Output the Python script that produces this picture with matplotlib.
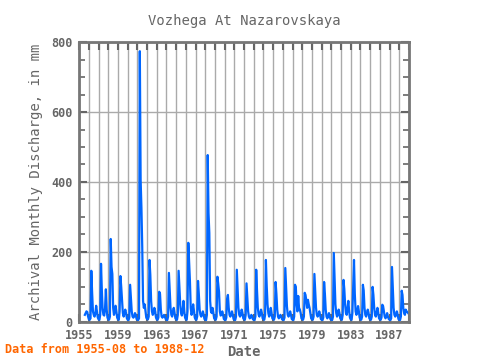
"""Monthly discharge record for Vozhega at Nazarovskaya."""
import matplotlib
matplotlib.use("Agg")
import matplotlib.pyplot as plt
from matplotlib.ticker import MultipleLocator, FuncFormatter
import numpy as np

START_YEAR = 1955
START_MONTH = 8

# monthly values (mm), one list per calendar year; 1955 starts in August
Y1955 = [20, 25, 30, 28, 15]
Y1956 = [7, 6, 10, 146, 83, 30, 20, 15, 25, 46, 30, 12]
Y1957 = [7, 6, 20, 166, 91, 35, 20, 18, 40, 93, 35, 12]
Y1958 = [7, 6, 15, 237, 157, 137, 40, 20, 30, 46, 30, 12]
Y1959 = [7, 6, 30, 131, 100, 60, 25, 15, 25, 35, 25, 10]
Y1960 = [6, 5, 12, 106, 70, 30, 15, 12, 15, 25, 20, 8]
Y1961 = [6, 5, 10, 774, 406, 326, 214, 60, 40, 50, 30, 12]
Y1962 = [8, 7, 15, 177, 134, 60, 30, 20, 25, 40, 30, 12]
Y1963 = [7, 6, 12, 86, 80, 35, 15, 12, 15, 20, 15, 8]
Y1964 = [6, 5, 15, 140, 90, 40, 20, 15, 30, 40, 25, 10]
Y1965 = [7, 6, 20, 146, 97, 50, 25, 18, 30, 60, 30, 12]
Y1966 = [7, 6, 30, 226, 169, 117, 40, 20, 30, 50, 30, 12]
Y1967 = [7, 6, 15, 117, 80, 35, 20, 15, 20, 30, 20, 8]
Y1968 = [6, 5, 20, 477, 311, 254, 60, 30, 25, 40, 25, 10]
Y1969 = [7, 6, 15, 129, 109, 86, 30, 18, 20, 30, 20, 8]
Y1970 = [6, 5, 12, 66, 77, 40, 20, 15, 20, 30, 20, 8]
Y1971 = [6, 5, 15, 149, 98, 40, 20, 15, 20, 35, 25, 10]
Y1972 = [7, 6, 20, 110, 70, 30, 15, 10, 12, 20, 15, 7]
Y1973 = [6, 5, 15, 149, 90, 40, 20, 15, 25, 35, 25, 10]
Y1974 = [7, 6, 20, 177, 103, 50, 25, 15, 20, 40, 25, 10]
Y1975 = [7, 6, 15, 114, 80, 35, 15, 10, 15, 20, 15, 7]
Y1976 = [6, 5, 12, 154, 100, 45, 20, 15, 20, 30, 20, 8]
Y1977 = [6, 5, 15, 106, 100, 50, 30, 74, 40, 35, 25, 10]
Y1978 = [7, 6, 15, 83, 77, 60, 40, 63, 50, 40, 25, 10]
Y1979 = [7, 6, 15, 137, 90, 40, 20, 15, 20, 30, 20, 8]
Y1980 = [6, 5, 12, 114, 80, 35, 15, 10, 15, 25, 15, 7]
Y1981 = [6, 5, 15, 197, 120, 50, 25, 15, 20, 35, 25, 10]
Y1982 = [7, 6, 20, 120, 94, 50, 25, 20, 40, 60, 30, 12]
Y1983 = [7, 6, 25, 100, 177, 80, 30, 20, 30, 45, 30, 12]
Y1984 = [7, 6, 15, 106, 90, 40, 20, 15, 25, 35, 25, 10]
Y1985 = [7, 6, 15, 100, 77, 40, 20, 15, 25, 40, 25, 10]
Y1986 = [7, 6, 12, 49, 45, 30, 15, 10, 15, 25, 15, 8]
Y1987 = [6, 5, 10, 157, 97, 40, 20, 15, 20, 30, 20, 8]
Y1988 = [6, 5, 15, 89, 77, 40, 25, 20, 35, 30, 28, 25]

YEARS = [Y1955, Y1956, Y1957, Y1958, Y1959, Y1960, Y1961, Y1962, Y1963,
         Y1964, Y1965, Y1966, Y1967, Y1968, Y1969, Y1970, Y1971, Y1972,
         Y1973, Y1974, Y1975, Y1976, Y1977, Y1978, Y1979, Y1980, Y1981,
         Y1982, Y1983, Y1984, Y1985, Y1986, Y1987, Y1988]

GRAY = "#666666"
FONT = "DejaVu Sans Mono"


def main() -> None:
    values = np.array([v for year in YEARS for v in year], dtype=float)
    months = np.arange(len(values)) + (START_MONTH - 1)
    dates = START_YEAR + months / 12.0

    fig = plt.figure(figsize=(4.8, 3.6), dpi=100)
    ax = fig.add_axes([0.165, 0.106, 0.687, 0.777])
    ax.plot(dates, values, color="#0066ff", linewidth=1.6)

    ax.set_xlim(1955, 1989)
    ax.set_ylim(0, 800)
    ax.xaxis.set_major_locator(MultipleLocator(1))
    ax.xaxis.set_major_formatter(
        FuncFormatter(lambda x, _: f"{int(round(x))}" if int(round(x)) % 4 == 3 else "")
    )
    ax.yaxis.set_major_locator(MultipleLocator(200))
    ax.yaxis.set_minor_locator(MultipleLocator(50))
    ax.grid(True, which="major", color="#aaaaaa", linewidth=1.0)
    ax.set_axisbelow(True)

    ax.tick_params(which="both", direction="in", top=True, right=True,
                   colors=GRAY, labelsize=8.5, pad=5)
    ax.tick_params(which="major", length=6, width=1.5)
    ax.tick_params(which="minor", length=4, width=1.2)
    for label in ax.get_xticklabels() + ax.get_yticklabels():
        label.set_fontfamily(FONT)
        label.set_fontweight("bold")
        label.set_color(GRAY)
    for spine in ax.spines.values():
        spine.set_color("#777777")
        spine.set_linewidth(2)

    ax.set_title("Vozhega At Nazarovskaya", fontsize=10, color=GRAY,
                 family=FONT, pad=12)
    ax.set_xlabel("Date", fontsize=10, color=GRAY, family=FONT,
                  fontweight="bold", labelpad=2)
    ax.set_ylabel("Archival Monthly Discharge, in mm", fontsize=10,
                  color=GRAY, family=FONT, labelpad=6)
    fig.text(0.01, 0.02, "Data from 1955-08 to 1988-12", color="#ff6600",
             fontsize=8.5, family=FONT, fontweight="bold")

    fig.savefig("out.png", dpi=100)
    plt.close(fig)


if __name__ == "__main__":
    main()
